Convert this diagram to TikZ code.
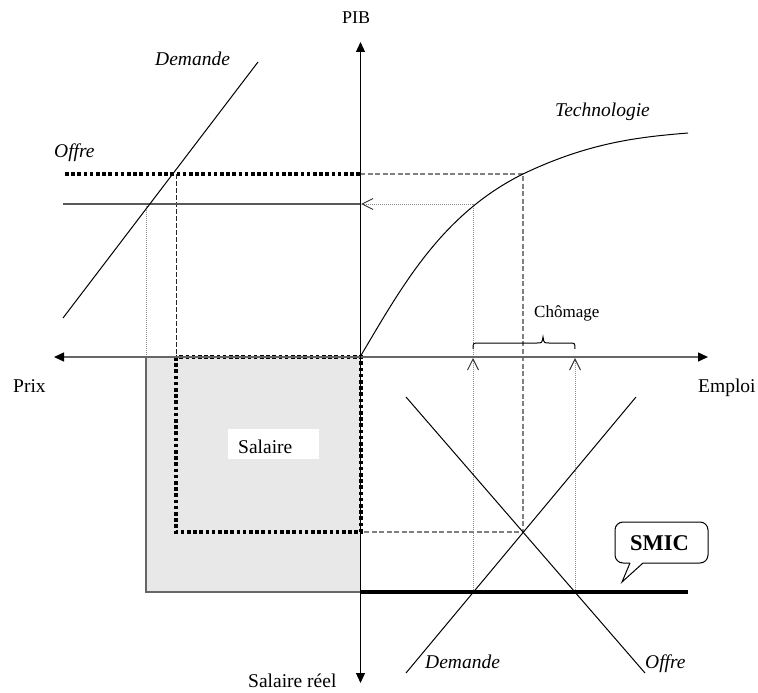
\documentclass[tikz,border=0pt]{standalone}
\usepackage{fontspec}
\setmainfont{Liberation Serif}
\usetikzlibrary{arrows.meta}
\begin{document}
\begin{tikzpicture}[x=1pt,y=-1pt,
  lbl/.style={inner sep=0pt, anchor=base west, font=\fontsize{19.5}{22}\selectfont},
  ilbl/.style={lbl, font=\fontsize{19.5}{22}\selectfont\itshape},
  vaxis/.style={line width=1.2pt, black, {Triangle[length=10pt,width=9pt]}-{Triangle[length=10pt,width=9pt]}},
  haxis/.style={line width=1.3pt, black!60, {Triangle[length=10pt,width=9pt,color=black]}-{Triangle[length=10pt,width=9pt,color=black]}},
  thickdot/.style={line width=3.6pt, black, dash pattern=on 3.6pt off 2.6pt},
  greydash/.style={line width=1.2pt, black!50, dash pattern=on 5pt off 2.5pt},
  blackdash/.style={line width=1pt, black!85, dash pattern=on 5pt off 2pt},
  greydot/.style={line width=1pt, black!45, dash pattern=on 1pt off 1pt},
  greyline/.style={line width=1.2pt, black!65},
  curveline/.style={line width=1pt, black},
  openhead/.style={-{Straight Barb[length=11pt,width=11pt,line width=1pt,color=black!80]}},
  wagefill/.style={fill=black!9},
  boxedge/.style={line width=1.2pt, black!60}
]
\useasboundingbox (0,0) rectangle (758,693);

% shaded area of total wages
\fill[wagefill] (146,357) rectangle (360,592);
\draw[boxedge] (146,357) -- (146,592) -- (360,592);

% goods market (upper left quadrant)
\draw[blackdash] (176,174) -- (176,357);
\draw[greydot] (146,204) -- (146,357);
\draw[greyline] (63,204) -- (360,204);
\draw[curveline] (63,318) -- (258,62);
\draw[thickdot] (65,174) -- (360,174);

% projections from the production function
\draw[greydash] (360,174) -- (523,174) -- (523,532) -- (361,532);
\draw[greydot] (473,357) -- (473,204);
\draw[greydot, openhead] (473,204) -- (361,204);

% production function
\draw[curveline] (360,357) .. controls (400,290) and (440,215) .. (523,174)
  .. controls (590,142) and (640,137) .. (688,133);

% labour market (lower right quadrant)
\draw[greydot, openhead] (473,592) -- (473,358);
\draw[greydot, openhead] (575,592) -- (575,358);
\draw[curveline] (406,673) -- (636,397);
\draw[curveline] (406,397) -- (645,673);
\draw[line width=4pt, black] (361,592) -- (688,592);

% wage rectangle at equilibrium
\draw[thickdot] (176,357) rectangle (361,532);

% axes
\draw[haxis] (54,357) -- (708,357);
\draw[vaxis] (360.5,683) -- (360.5,42);

% unemployment brace
\draw[line width=1pt] (473,349) .. controls (473,343) .. (479,343) -- (537,343)
  .. controls (542,343) .. (543,337) .. controls (544,343) .. (549,343) -- (569,343)
  .. controls (575,343) .. (575,349);

% SMIC callout
\draw[line width=1pt, rounded corners=8pt, fill=white] (630,563) -- (615,563) -- (615,522) -- (708,522) -- (708,563) -- (643,563);
\draw[line width=1pt] (643,563) -- (622,582) -- (630,563);

% wage label
\fill[white] (228,429) rectangle (319,459);

% labels
\node[lbl, font=\fontsize{18}{20}\selectfont] (pib) at (342,23.5) {PIB};
\node[lbl] (prix) at (13,392) {Prix};
\node[lbl] (emploi) at (698,392) {Emploi};
\node[lbl] (salreel) at (248,687) {Salaire réel};
\node[ilbl] (demhaut) at (155,66) {Demande};
\node[ilbl] (offhaut) at (54,157) {Offre};
\node[ilbl] (techno) at (555,116) {Technologie};
\node[lbl, font=\fontsize{17}{19}\selectfont] (chomage) at (534,317) {Chômage};
\node[lbl] (salaire) at (238,453) {Salaire};
\node[lbl, font=\fontsize{22.5}{24}\selectfont\bfseries] (smic) at (630,550) {SMIC};
\node[ilbl] (dembas) at (425,668) {Demande};
\node[ilbl] (offbas) at (645,668) {Offre};
\end{tikzpicture}
\end{document}
